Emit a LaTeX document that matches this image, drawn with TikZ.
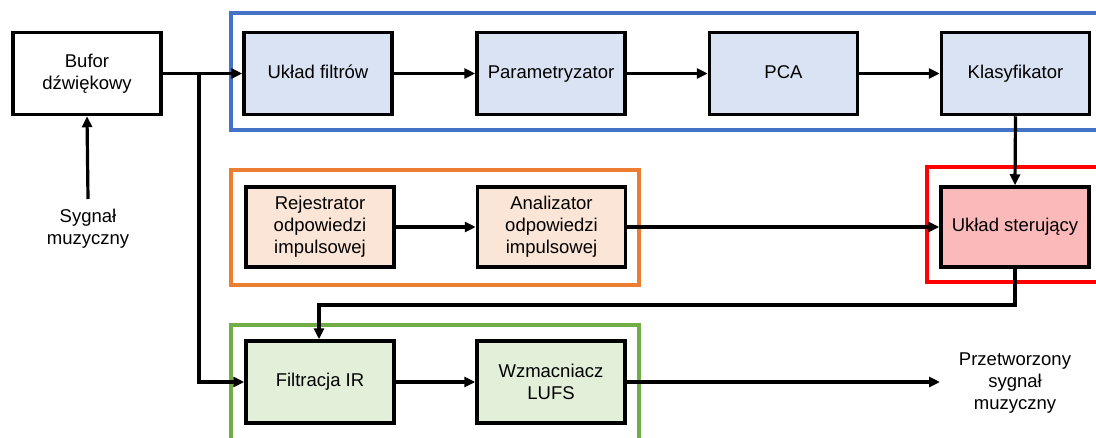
\documentclass[tikz,border=0pt]{standalone}
\usepackage{fontspec}
\setmainfont{Liberation Sans}
\usetikzlibrary{arrows.meta,calc}
\definecolor{bluefill}{HTML}{DAE3F3}
\definecolor{blueline}{HTML}{4472C4}
\definecolor{orfill}{HTML}{FBE5D6}
\definecolor{orline}{HTML}{ED7D31}
\definecolor{redfill}{HTML}{FBB9B9}
\definecolor{redline}{HTML}{FF0000}
\definecolor{grfill}{HTML}{E2F0D9}
\definecolor{grline}{HTML}{70AD47}
\tikzset{
  blk/.style={draw=black, line width=3.5pt, minimum width=148pt, minimum height=82pt, align=center, inner sep=0pt,
    font=\fontsize{18.5}{22}\selectfont},
  one/.style={text height=13.5pt, text depth=4pt},
  frame/.style={line width=4.2pt},
  arr/.style={line width=3.2pt, -{Triangle[length=11pt,width=10pt]}},
  lbl/.style={align=center, font=\fontsize{18.5}{22}\selectfont, inner sep=0pt}
}
\begin{document}
\begin{tikzpicture}[x=1pt,y=-1pt]
\useasboundingbox (0,0) rectangle (1096,437);
\fill[white] (0,0) rectangle (1096,437);
% frames
\draw[frame, draw=blueline] (231,13) rectangle (1110,130);
\draw[frame, draw=orline] (231,170) rectangle (639,285);
\draw[frame, draw=redline] (927,167) rectangle (1110,282);
\draw[frame, draw=grline] (231,325) rectangle (639,450);
% blocks
\node[blk, fill=white] (buf) at (87,73.5) {Bufor\\dźwiękowy};
\node[blk, one, fill=bluefill] (filt) at (318,73.5) {Układ filtrów};
\node[blk, one, fill=bluefill] (par) at (551,73.5) {Parametryzator};
\node[blk, one, fill=bluefill] (pca) at (783.5,73.5) {PCA};
\node[blk, one, fill=bluefill] (kla) at (1015.5,73.5) {Klasyfikator};
\node[blk, fill=orfill, minimum height=80pt] (rej) at (320,227) {Rejestrator\\odpowiedzi\\impulsowej};
\node[blk, fill=orfill, minimum height=80pt] (ana) at (551.5,227) {Analizator\\odpowiedzi\\impulsowej};
\node[blk, one, fill=redfill, minimum height=80pt] (ste) at (1015,227) {Układ sterujący};
\node[blk, one, fill=grfill] (fir) at (320,382) {Filtracja IR};
\node[blk, fill=grfill] (wzm) at (551,382) {Wzmacniacz\\LUFS};
% labels
\node[lbl, anchor=north] (sig) at (88,209) {Sygnał\\muzyczny};
\node[lbl] (out) at (1015,383) {Przetworzony\\sygnał\\muzyczny};
% coordinates
\coordinate (sigtop) at (88,199);
\coordinate (br) at (199,73.5);
\coordinate (ctly) at (0,305);
\coordinate (outend) at (940,382);
% connectors
\draw[arr] (sigtop) -- (buf.south);
\draw[arr] (buf.east) -- (filt.west);
\draw[arr] (br) |- (fir.west);
\draw[arr] (filt.east) -- (par.west);
\draw[arr] (par.east) -- (pca.west);
\draw[arr] (pca.east) -- (kla.west);
\draw[arr] (kla.south) -- (ste.north);
\draw[arr] (rej.east) -- (ana.west);
\draw[arr] (ana.east) -- (ste.west);
\draw[arr] (ste.south) -- (ste.south |- ctly) -| ([xshift=-1pt]fir.north);
\draw[arr] (fir.east) -- (wzm.west);
\draw[arr] (wzm.east) -- (outend);
\end{tikzpicture}
\end{document}
